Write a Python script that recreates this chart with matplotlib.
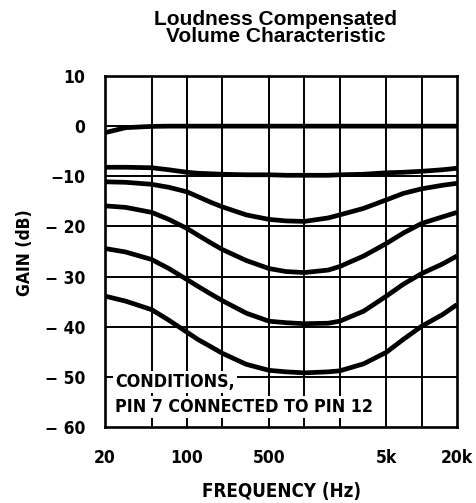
import matplotlib
matplotlib.use("Agg")
import matplotlib.pyplot as plt
from matplotlib.ticker import FixedLocator, NullLocator

freq = [20, 30, 50, 70, 100, 125, 160, 200, 320, 500, 700, 1000, 1600, 2000, 3200, 5000, 7000, 10000, 15000, 20000]
curve_0 = [-1.3, -0.3, -0.05, 0, 0, 0, 0, 0, 0, 0, 0, 0, 0, 0, 0, 0, 0, 0, 0, 0]
curve_10 = [-8.2, -8.2, -8.3, -8.7, -9.2, -9.4, -9.5, -9.6, -9.7, -9.7, -9.8, -9.8, -9.8, -9.7, -9.6, -9.3, -9.2, -9.0, -8.7, -8.4]
curve_20 = [-11.1, -11.2, -11.6, -12.2, -13.1, -14.1, -15.2, -16.1, -17.7, -18.6, -18.9, -19.0, -18.3, -17.7, -16.4, -14.7, -13.4, -12.5, -11.8, -11.4]
curve_30 = [-15.9, -16.2, -17.2, -18.6, -20.4, -21.8, -23.3, -24.6, -26.8, -28.4, -29.0, -29.2, -28.7, -28.0, -25.9, -23.4, -21.3, -19.4, -18.1, -17.2]
curve_40 = [-24.4, -25.1, -26.6, -28.4, -30.6, -32.0, -33.5, -34.8, -37.3, -38.9, -39.2, -39.4, -39.3, -38.9, -36.9, -33.9, -31.5, -29.4, -27.5, -25.9]
curve_50 = [-33.9, -34.9, -36.6, -38.7, -41.1, -42.6, -44.0, -45.3, -47.5, -48.7, -49.0, -49.2, -49.0, -48.8, -47.4, -45.1, -42.5, -39.9, -37.6, -35.6]

grid_x = [50, 100, 200, 500, 1000, 2000, 5000, 10000]
xtick_vals = [20, 100, 500, 5000, 20000]
xtick_labels = ["20", "100", "500", "5k", "20k"]
ytick_vals = [10, 0, -10, -20, -30, -40, -50, -60]
ytick_labels = ["10", "0", "\u221210", "\u2212 20", "\u2212 30", "\u2212 40", "\u2212 50", "\u2212 60"]

title = "Loudness Compensated\nVolume Characteristic"
xlabel = "FREQUENCY (Hz)"
ylabel = "GAIN (dB)"
note1 = "CONDITIONS,"
note2 = "PIN 7 CONNECTED TO PIN 12"

cond = dict(family=["Liberation Sans Narrow", "DejaVu Sans"], fontweight="bold", fontstretch="condensed")

fig = plt.figure(figsize=(4.77, 5.03), dpi=100)
ax = fig.add_axes([105 / 477, 1 - 427 / 503, 352 / 477, 351 / 503])
ax.set_xscale("log")
ax.set_xlim(20, 20000)
ax.set_ylim(-60, 10)

for gx in grid_x:
    ax.axvline(gx, color="black", lw=1.4, zorder=1)
for gy in ytick_vals[1:-1]:
    ax.axhline(gy, color="black", lw=1.4, zorder=1)

for c in [curve_0, curve_10, curve_20, curve_30, curve_40, curve_50]:
    ax.plot(freq, c, color="black", lw=3.4, solid_capstyle="butt", solid_joinstyle="round", zorder=3)

for s in ax.spines.values():
    s.set_linewidth(1.9)

ax.xaxis.set_major_locator(FixedLocator(xtick_vals))
ax.xaxis.set_minor_locator(NullLocator())
ax.set_xticklabels(xtick_labels)
ax.yaxis.set_major_locator(FixedLocator(ytick_vals))
ax.set_yticklabels(ytick_labels)
ax.tick_params(axis="y", length=0, pad=14)
ax.tick_params(axis="x", length=0, pad=16)
for lab in ax.get_xticklabels() + ax.get_yticklabels():
    lab.set_family(cond["family"])
    lab.set_fontweight("bold")
    lab.set_fontstretch("condensed")
    lab.set_fontsize(12.5)

ax.text(24.5, -51, note1, fontsize=12.8, va="center", ha="left", zorder=5,
        bbox=dict(facecolor="white", edgecolor="none", pad=1.5), **cond)
ax.text(24.5, -56, note2, fontsize=12.8, va="center", ha="left", zorder=5,
        bbox=dict(facecolor="white", edgecolor="none", pad=1.5), **cond)

fig.text(276 / 477, 1 - 28 / 503, title, ha="center", va="center", fontsize=15,
         fontweight="bold", family=["Liberation Sans", "DejaVu Sans"], linespacing=0.82)
fig.text(282 / 477, 1 - 492 / 503, xlabel, ha="center", va="center", fontsize=13.5, **cond)
fig.text(25 / 477, 1 - 253 / 503, ylabel, ha="center", va="center", rotation=90, fontsize=12.5, **cond)

fig.savefig("out.png", dpi=100, facecolor="white")
